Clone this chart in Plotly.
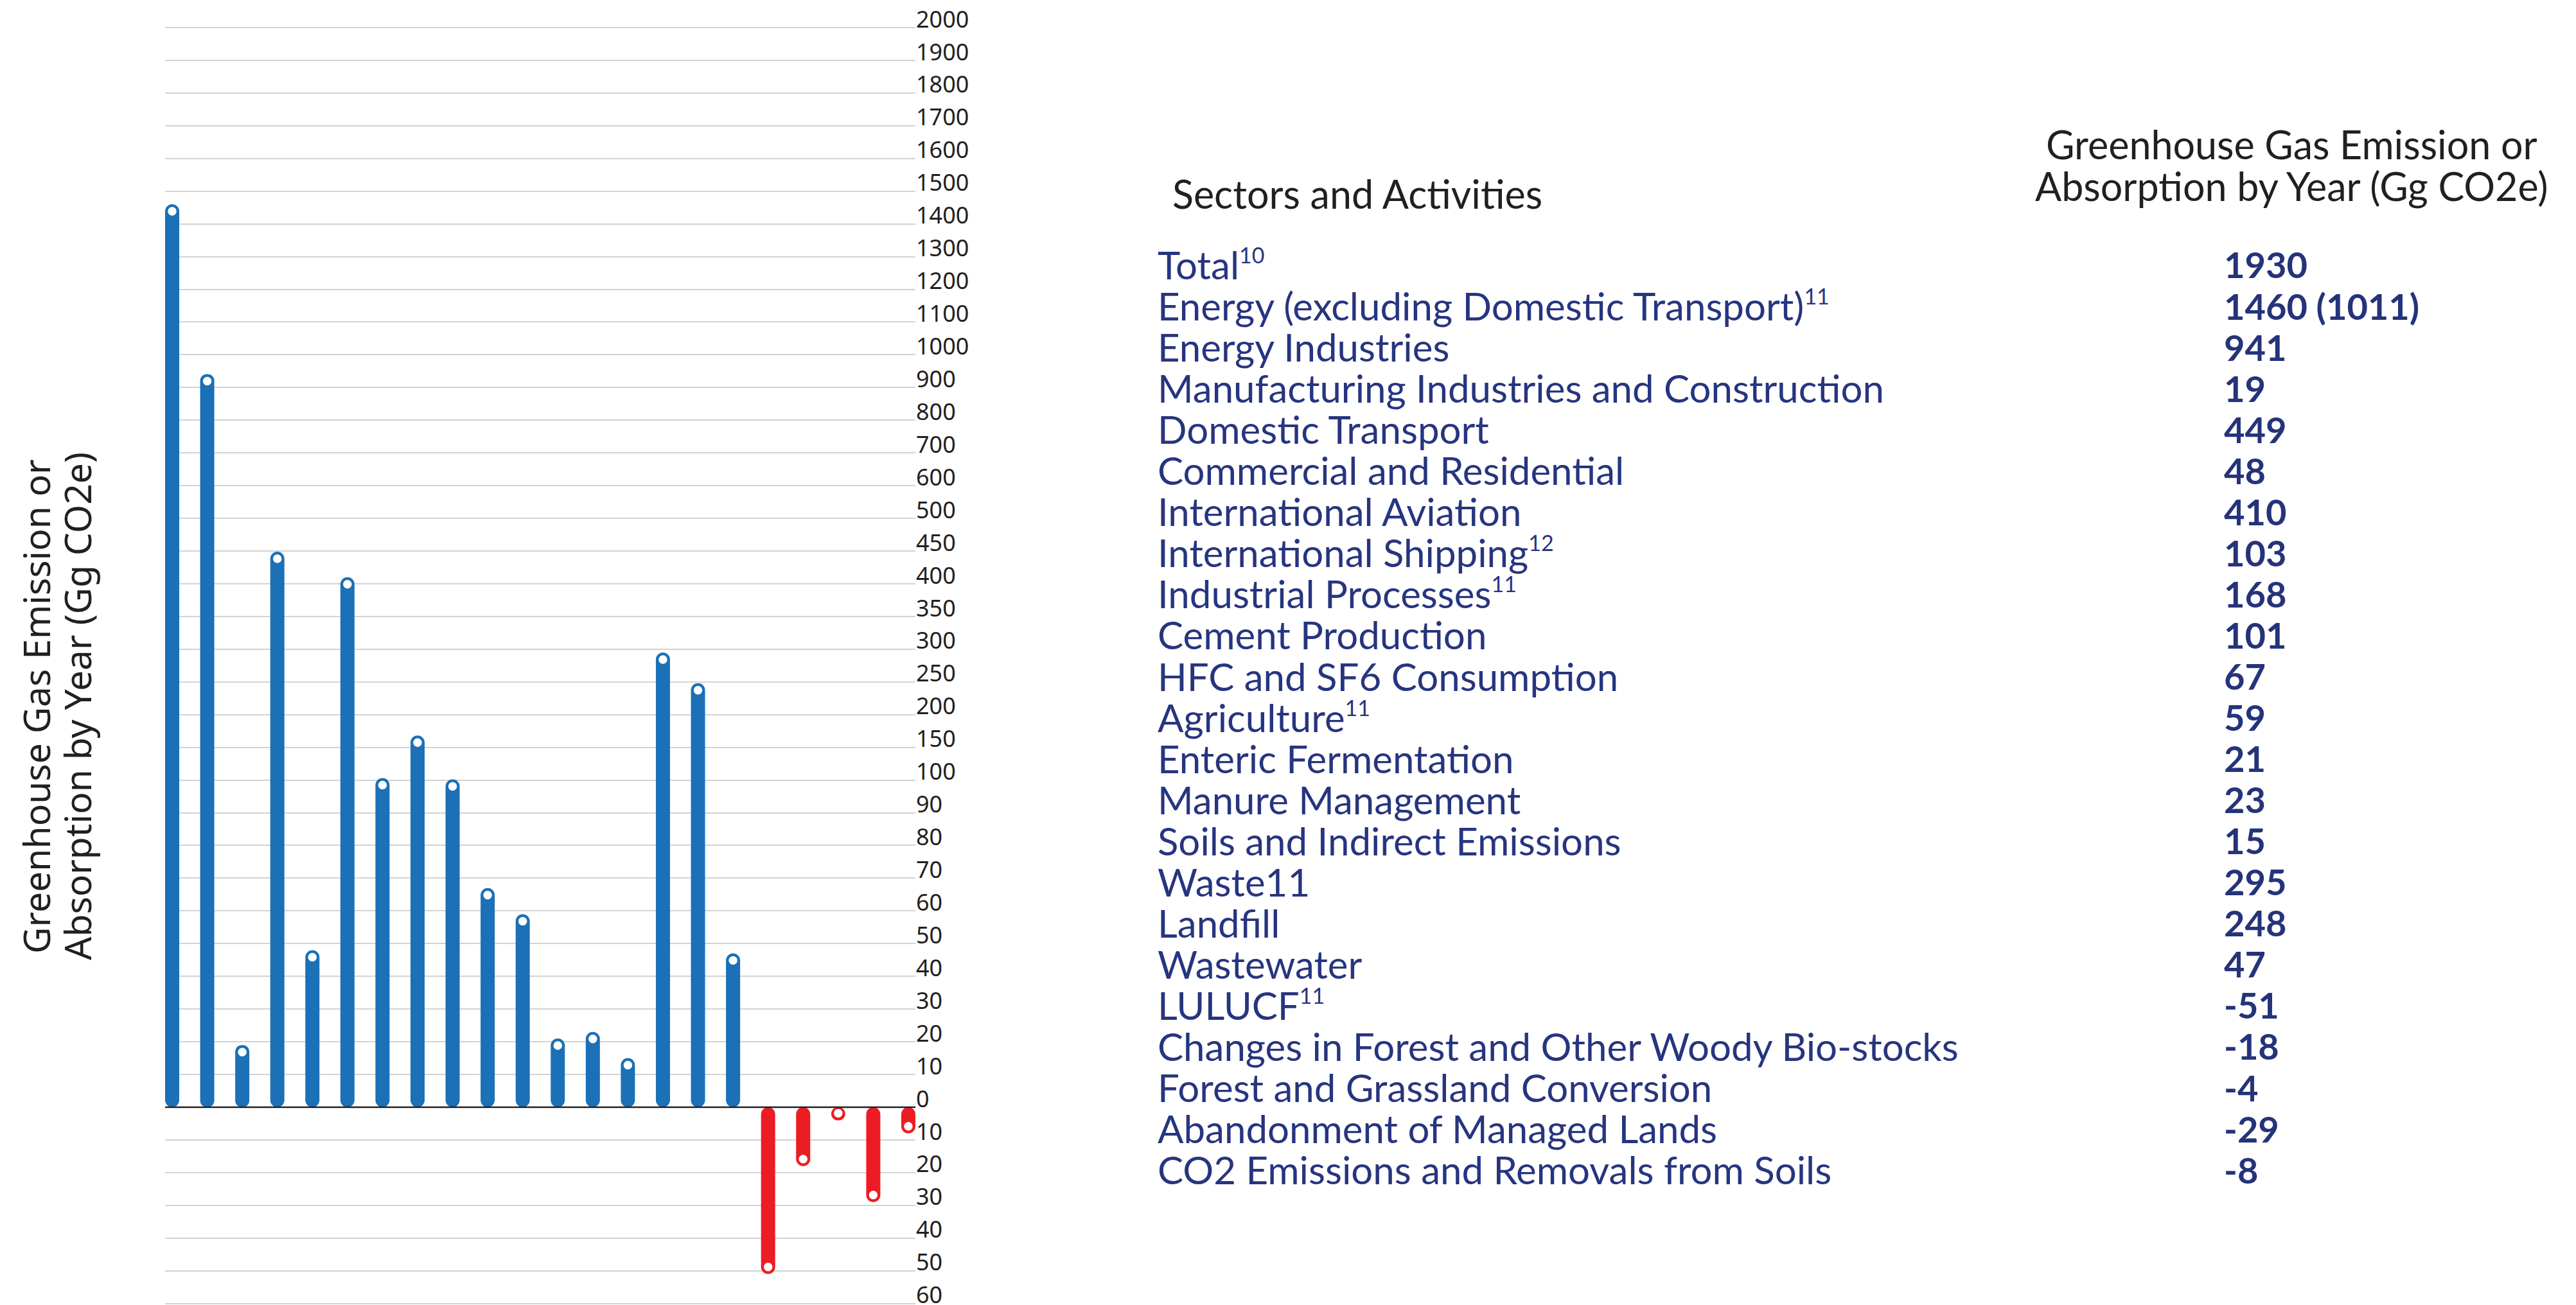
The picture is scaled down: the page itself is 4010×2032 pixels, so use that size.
import numpy as np
import plotly.graph_objects as go

# ---------------- data ----------------
SUP = "<sup><span style='font-size:34px'>{}</span></sup>"
sectors = [
    "Total" + SUP.format("10"),
    "Energy (excluding Domestic Transport)" + SUP.format("11"),
    "Energy Industries",
    "Manufacturing Industries and Construction",
    "Domestic Transport",
    "Commercial and Residential",
    "International Aviation",
    "International Shipping" + SUP.format("12"),
    "Industrial Processes" + SUP.format("11"),
    "Cement Production",
    "HFC and SF6 Consumption",
    "Agriculture" + SUP.format("11"),
    "Enteric Fermentation",
    "Manure Management",
    "Soils and Indirect Emissions",
    "Waste11",
    "Landfill",
    "Wastewater",
    "LULUCF" + SUP.format("11"),
    "Changes in Forest and Other Woody Bio-stocks",
    "Forest and Grassland Conversion",
    "Abandonment of Managed Lands",
    "CO2 Emissions and Removals from Soils",
]
table_values = ["1930", "1460 (1011)", "941", "19", "449", "48", "410", "103", "168",
                "101", "67", "59", "21", "23", "15", "295", "248", "47", "-51", "-18",
                "-4", "-29", "-8"]

# bars: every row except Total
bar_values = [1460, 941, 19, 449, 48, 410, 103, 168, 101, 67, 59, 21, 23, 15,
              295, 248, 47, -51, -18, -4, -29, -8]

# the axis is piecewise: equally spaced ticks with changing step
axis_ticks = ([-60, -50, -40, -30, -20, -10, 0, 10, 20, 30, 40, 50, 60, 70, 80, 90]
              + [100, 150, 200, 250, 300, 350, 400, 450]
              + [500, 600, 700, 800, 900]
              + [1000, 1100, 1200, 1300, 1400, 1500, 1600, 1700, 1800, 1900, 2000])
tick_labels = [str(abs(t)) for t in axis_ticks]

title_lines = ["Greenhouse Gas Emission or", "Absorption by Year (Gg CO2e)"]
header_left = "Sectors and Activities"
header_right_lines = ["Greenhouse Gas Emission or", "Absorption by Year (Gg CO2e)"]

# ---------------- styling / layout ----------------
PAGE_W, PAGE_H = 4010, 2032
OFF = 8                      # default body margin of the html page
FW, FH = PAGE_W - OFF, PAGE_H - OFF
BLUE = "#1b70b7"
RED = "#ed1c24"
NAVY = "#27357f"
NAVY_B = "#25337a"
DARK = "#231f20"


def px_x(p):
    return (p - OFF) / FW


def px_y(p):
    return 1 - (p - OFF) / FH


tick_pos = np.arange(len(axis_ticks), dtype=float)


def to_pos(v):
    return np.interp(np.asarray(v, dtype=float), axis_ticks, tick_pos)


vals = np.array(bar_values, dtype=float)
xs = np.arange(len(vals))
zero = float(to_pos(0))
tips = to_pos(vals)
colors = [BLUE if v > 0 else RED for v in vals]

# pixel geometry of the plot area (page pixels)
x_left_px, x_right_px = 257, 1425
first_bar_px = 268
unit_x = 54.57
y_top_px, y_bot_px = OFF, PAGE_H
top_grid_px, zero_px = 43, 1724
n_top = len(axis_ticks) - 1
unit_y = (zero_px - top_grid_px) / (n_top - zero)

x_r0 = -(first_bar_px - x_left_px) / unit_x
x_r1 = x_r0 + (x_right_px - x_left_px) / unit_x
y_r1 = n_top + (top_grid_px - y_top_px) / unit_y
y_r0 = y_r1 - (y_bot_px - y_top_px) / unit_y

cap_offset = 11.0 / unit_y  # circle sits at the centre of the rounded cap
marker_y = tips - np.sign(vals) * cap_offset

fig = go.Figure()
fig.add_trace(go.Bar(
    x=xs, y=tips - zero, base=zero, width=0.403,
    marker=dict(color=colors, line=dict(width=0)),
    hoverinfo="skip", showlegend=False,
))
fig.add_trace(go.Scatter(
    x=xs, y=marker_y, mode="markers",
    marker=dict(size=15, color="white", line=dict(width=1.5, color=colors)),
    hoverinfo="skip", showlegend=False, cliponaxis=False,
))

fig.add_shape(type="line", xref="paper", yref="y",
              x0=px_x(x_left_px), x1=px_x(x_right_px), y0=zero, y1=zero,
              line=dict(color=DARK, width=2.5), layer="above")

annotations = []
for line, cx in zip(title_lines, [56, 120]):
    annotations.append(dict(
        text=line, x=px_x(cx), y=px_y(1100), xref="paper", yref="paper",
        xanchor="center", yanchor="middle", textangle=-90, showarrow=False,
        font=dict(family="Noto Sans", size=57, color=DARK),
    ))
annotations.append(dict(
    text=header_left, x=px_x(1823), y=px_y(302), xref="paper", yref="paper",
    xanchor="left", yanchor="middle", showarrow=False,
    font=dict(family="Lato", size=61, color=DARK),
))
for line, cy in zip(header_right_lines, [225, 289]):
    annotations.append(dict(
        text=line, x=px_x(3567), y=px_y(cy), xref="paper", yref="paper",
        xanchor="center", yanchor="middle", showarrow=False,
        font=dict(family="Lato", size=61, color=DARK),
    ))

row0, row_step = 412, 64.05
for i, (name, val) in enumerate(zip(sectors, table_values)):
    yy = px_y(row0 + i * row_step)
    annotations.append(dict(
        text=name, x=px_x(1800), y=yy, xref="paper", yref="paper",
        xanchor="left", yanchor="middle", showarrow=False,
        font=dict(family="Lato", size=60, color=NAVY),
    ))
    annotations.append(dict(
        text="<b>" + val + "</b>", x=px_x(3460), y=yy, xref="paper", yref="paper",
        xanchor="left", yanchor="middle", showarrow=False,
        font=dict(family="Lato", size=56, color=NAVY_B),
    ))

fig.update_layout(
    width=FW, height=FH,
    margin=dict(l=0, r=0, t=0, b=0, autoexpand=False),
    paper_bgcolor="white", plot_bgcolor="white",
    barcornerradius="50%",
    xaxis=dict(domain=[px_x(x_left_px), px_x(x_right_px)], range=[x_r0, x_r1],
               showgrid=False, zeroline=False, showticklabels=False,
               showline=False, fixedrange=True),
    yaxis=dict(domain=[px_y(y_bot_px), px_y(y_top_px)], range=[y_r0, y_r1],
               tickvals=tick_pos, ticktext=tick_labels, side="right",
               showgrid=True, gridcolor="#d3d3d3", gridwidth=2,
               zeroline=False, showline=False, ticks="",
               ticklabelstandoff=0, ticklabelshift=-13,
               ticklabeloverflow="allow",
               tickfont=dict(family="Noto Sans", size=36, color=DARK)),
    annotations=annotations,
    showlegend=False,
)

fig.write_html("out.html")
